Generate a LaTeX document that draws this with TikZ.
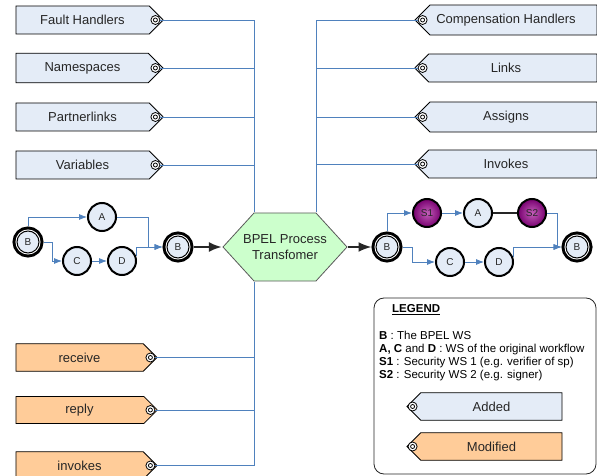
\documentclass[tikz,border=0pt]{standalone}
\usepackage{fontspec}
\setmainfont{Liberation Sans}
\usetikzlibrary{positioning,shapes.misc,arrows.meta}

\definecolor{tagblue}{RGB}{228,236,247}
\definecolor{tagorange}{RGB}{255,204,153}
\definecolor{hexgreen}{RGB}{204,255,204}
\definecolor{wireblue}{RGB}{79,129,189}
\definecolor{secdark}{RGB}{120,0,112}
\definecolor{seclight}{RGB}{195,95,185}

\begin{document}
\begin{tikzpicture}[
    x=1bp, y=-1bp,
    tag/.style={
      % The shape:
      chamfered rectangle,
      chamfered rectangle xsep=10bp,
      chamfered rectangle ysep=9bp,
      % The size:
      minimum height=28bp,
      inner sep=0pt,
      % The border:
      draw=black,
      line width=0.8bp,
      % Font
      text=black!85,
      font=\fontsize{13bp}{15bp}\selectfont,
    },
    tag east/.style={tag, chamfered rectangle corners={north east,south east}},
    tag west/.style={tag, chamfered rectangle corners={north west,south west}},
    added/.style={fill=tagblue},
    modified/.style={fill=tagorange, minimum height=27bp},
    nudge/.style={execute at begin node={\hspace*{#1}}},
    port/.style={circle, draw=black, fill=white, line width=0.8bp,
      inner sep=0pt, minimum size=9bp,
      path picture={\draw[line width=0.8bp] (path picture bounding box.center) circle (2bp);}},
    ws/.style={circle, draw=black, line width=2bp, fill=tagblue,
      minimum size=28bp, inner sep=0pt, text=black!85,
      font=\fontsize{10bp}{12bp}\selectfont},
    bpel/.style={ws, line width=1bp, minimum size=22bp, outer sep=4.5bp,
      preaction={draw=black, line width=9bp},
      preaction={draw=white, line width=3bp}},
    sec/.style={ws, inner color=seclight, outer color=secdark},
    % hexagon drawn inside a plain box
    hexa/.style={rectangle, minimum width=126bp, minimum height=70bp,
      inner sep=0pt, align=center, text=black!85,
      font=\fontsize{13bp}{16bp}\selectfont,
      path picture={
        \draw[fill=hexgreen, draw=black!65, line width=0.8bp]
          ([xshift=-62bp]path picture bounding box.center) -- ++(31,-34)
          -- ++(62,0) -- ++(31,34) -- ++(-31,34) -- ++(-62,0) -- cycle;}},
    wire/.style={draw=wireblue, line width=0.8bp},
    flow/.style={wire, -{Latex[length=8bp,width=6bp]}},
    pass/.style={draw=black!85, line width=2bp, -{Latex[length=13bp,width=10bp]}},
    legendbox/.style={rectangle, rounded corners=10bp, draw=black!85,
      line width=0.8bp, minimum width=222bp, minimum height=176bp},
    legendtext/.style={inner sep=0pt, text=black, align=left,
      font=\fontsize{11.5bp}{13bp}\selectfont},
  ]
  \clip (0,0) rectangle (597,476);

  % the transformer in the middle
  \node[hexa] (hex) at (285,247) {BPEL Process\\Transfomer};
  \coordinate (busLt) at ([xshift=-31bp]hex.north);
  \coordinate (busRt) at ([xshift=31bp]hex.north);
  \coordinate (busLb) at ([xshift=-31bp]hex.south);

  % added parts, left column
  \node[tag east, added, minimum width=147bp, nudge=-14bp] (fault) at (89.5,20) {Fault Handlers};
  \node[tag east, added, minimum width=147bp, nudge=-14bp] (names) at (89.5,68) {Namespaces};
  \node[tag east, added, minimum width=147bp, nudge=-14bp] (partner) at (89.5,117) {Partnerlinks};
  \node[tag east, added, minimum width=147bp, nudge=-14bp] (vars) at (89.5,165) {Variables};
  \node[port] (fault-p) at ([xshift=-8bp]fault.east) {};
  \node[port] (names-p) at ([xshift=-8bp]names.east) {};
  \node[port] (partner-p) at ([xshift=-8bp]partner.east) {};
  \node[port] (vars-p) at ([xshift=-8bp]vars.east) {};

  % added parts, right column
  \node[tag west, added, minimum width=182bp] (comp) at (506,20) {Compensation Handlers};
  \node[tag west, added, minimum width=182bp] (links) at (506,68) {Links};
  \node[tag west, added, minimum width=182bp] (assigns) at (506,117) {Assigns};
  \node[tag west, added, minimum width=182bp] (invokes) at (506,164) {Invokes};
  \node[port] (comp-p) at ([xshift=8bp]comp.west) {};
  \node[port] (links-p) at ([xshift=8bp]links.west) {};
  \node[port] (assigns-p) at ([xshift=8bp]assigns.west) {};
  \node[port] (invokes-p) at ([xshift=8bp]invokes.west) {};

  % modified activities
  \node[tag east, modified, minimum width=141bp, nudge=-14bp] (receive) at (86.5,357.5) {receive};
  \node[tag east, modified, minimum width=141bp, nudge=-14bp] (reply) at (86.5,410) {reply};
  \node[tag east, modified, minimum width=141bp, nudge=-14bp] (invokes-m) at (86.5,465.5) {invokes};
  \node[port] (receive-p) at ([xshift=-7bp]receive.east) {};
  \node[port] (reply-p) at ([xshift=-7bp]reply.east) {};
  \node[port] (invokes-m-p) at ([xshift=-7bp]invokes-m.east) {};

  \draw[wire] (fault-p) -| (busLt);
  \draw[wire] (names-p) -| (busLt);
  \draw[wire] (partner-p) -| (busLt);
  \draw[wire] (vars-p) -| (busLt);
  \draw[wire] (comp-p) -| (busRt);
  \draw[wire] (links-p) -| (busRt);
  \draw[wire] (assigns-p) -| (busRt);
  \draw[wire] (invokes-p) -| (busRt);
  \draw[wire] (receive-p) -| (busLb);
  \draw[wire] (reply-p) -| (busLb);
  \draw[wire] (invokes-m-p) -| (busLb);

  % original workflow
  \node[bpel] (b-in) at (28,242) {B};
  \node[ws] (a) at (102,217) {A};
  \node[ws] (c) at (77,261) {C};
  \node[ws] (d) at (122,261) {D};
  \node[bpel] (b-out) at (178,247) {B};

  \draw[flow] (b-in.north) |- (a.west);
  \draw[flow] (b-in.east) -- ++(9,0) |- (c.west);
  \draw[flow] (c) -- (d);
  \draw[flow] (a.east) -- ++(31,0) |- (b-out.west);
  \draw[flow] (d.20) |- (b-out.west);

  % transformed workflow
  \node[bpel] (b-in2) at (387,247) {B};
  \node[sec] (s1) at (427,213) {S1};
  \node[ws] (a2) at (478,213) {A};
  \node[sec] (s2) at (532,213) {S2};
  \node[ws] (c2) at (450,262) {C};
  \node[ws] (d2) at (499,262) {D};
  \node[bpel] (b-out2) at (577,247) {B};

  \draw[pass] (b-out) -- (hex);
  \draw[pass] (hex) -- (b-in2);
  \draw[flow] (b-in2.north) |- (s1.west);
  \draw[flow] (s1) -- (a2);
  \draw[black!85, line width=2bp] (a2) -- (s2);
  \draw[flow] (s2.east) -- ++(10,0) |- (b-out2.west);
  \draw[flow] (b-in2.east) -- ++(10,0) |- (c2.west);
  \draw[flow] (c2) -- (d2);
  \draw[flow] (d2.20) |- (b-out2.west);

  % legend
  \node[legendbox] (legend) at (485,386) {};
  \node[legendtext, anchor=west, font=\fontsize{11.5bp}{13bp}\selectfont\bfseries] (legend-title) at (392,310) {\underline{LEGEND}};
  \node[legendtext, anchor=north west] (legend-keys) at (379,331)
    {\textbf{B} : The BPEL WS\\
     \textbf{A, C} and \textbf{D} : WS of the original workflow\\
     \textbf{S1} : Security WS 1 (e.g. verifier of sp)\\
     \textbf{S2} : Security WS 2 (e.g. signer)};
  \node[tag west, added, minimum width=155bp, minimum height=27bp, nudge=14bp] (key-added) at (484.5,406.5) {Added};
  \node[tag west, modified, minimum width=155bp, nudge=14bp] (key-modified) at (484.5,446.5) {Modified};
  \node[port] (key-added-p) at ([xshift=6bp]key-added.west) {};
  \node[port] (key-modified-p) at ([xshift=6bp]key-modified.west) {};
\end{tikzpicture}
\end{document}
